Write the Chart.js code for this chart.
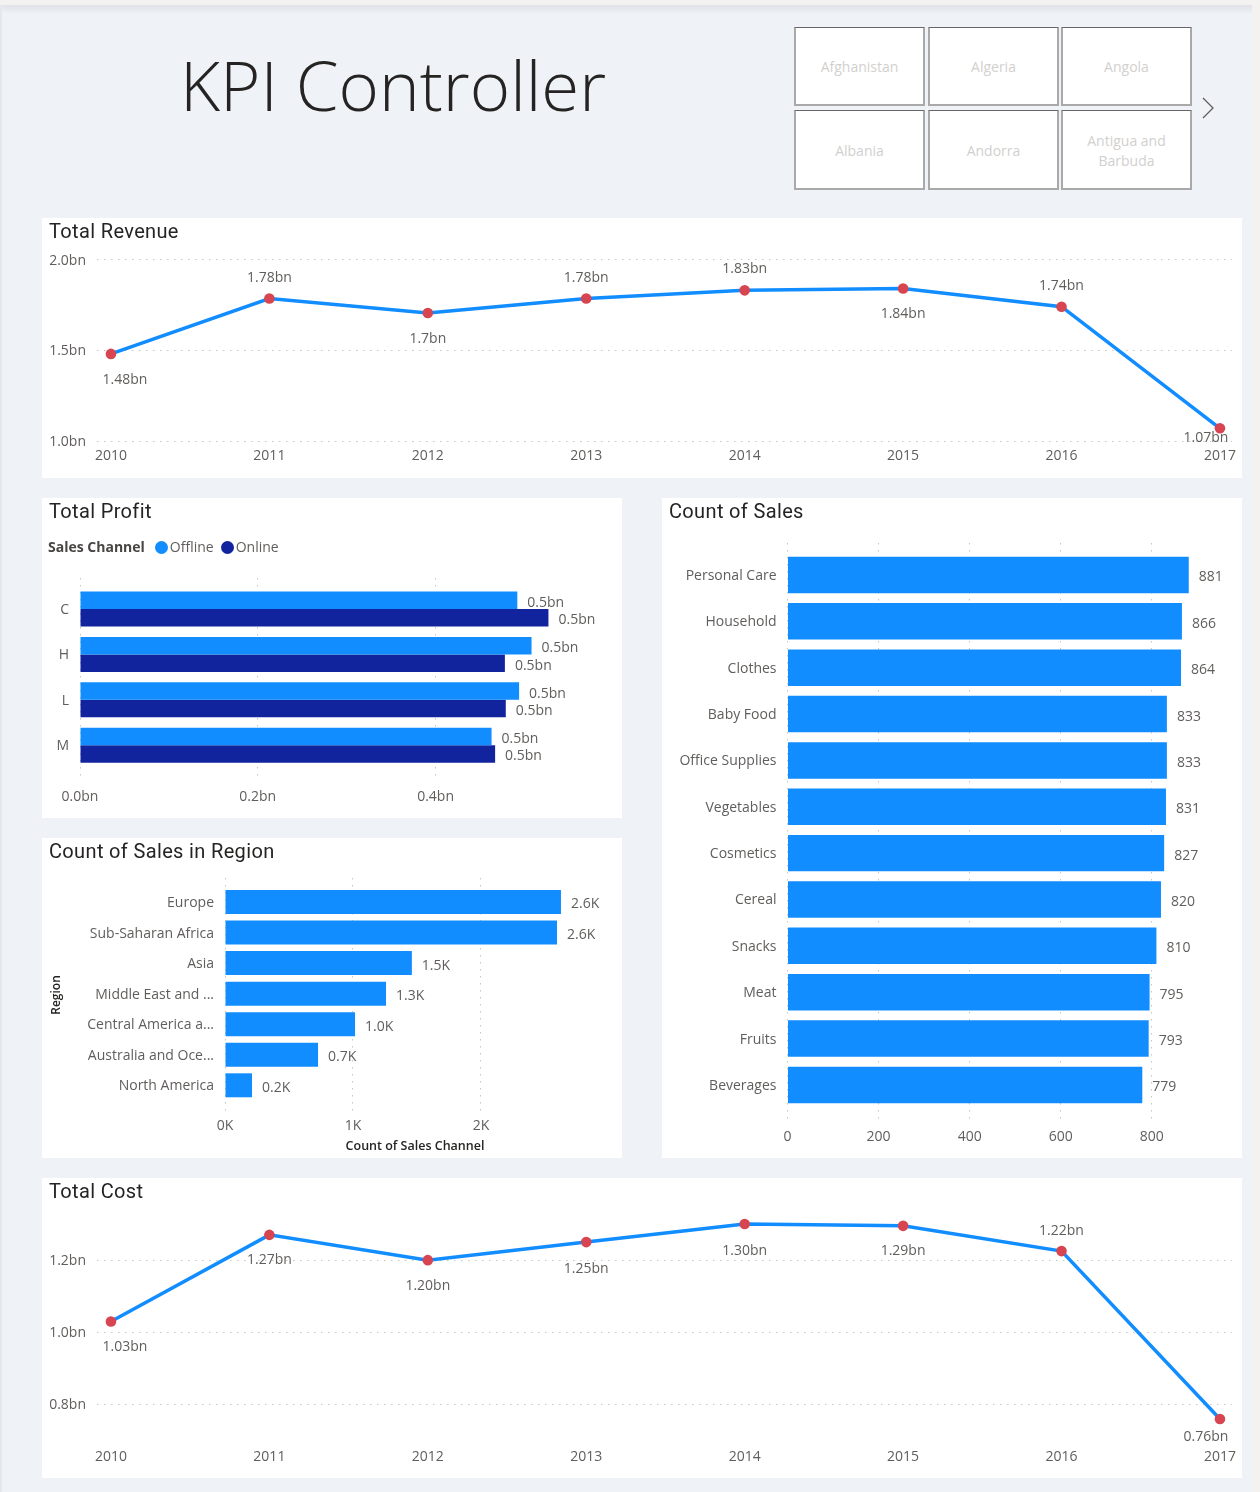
<!DOCTYPE html>
<html>
<head>
<meta charset="utf-8">
<title>KPI Controller</title>
<script src="https://cdn.jsdelivr.net/npm/chart.js@4"></script>
<style>
  html, body { margin: 0; padding: 0; }
  body { width: 1260px; height: 1492px; position: relative; overflow: hidden; background: #eff3f8; font-family: "Open Sans", sans-serif; }
  .topbar { position: absolute; left: 0; top: 0; width: 1260px; height: 5px; background: #f3f2f1; box-shadow: 0 2px 8px rgba(0,0,0,0.14); }
  .leftedge { position: absolute; left: 0; top: 5px; width: 2px; height: 1487px; background: #e6e7e9; }
  .rightedge { position: absolute; left: 1252px; top: 5px; width: 8px; height: 1487px; background: #f3f2f1; }
  .heading { position: absolute; left: 180px; top: 36px; font-size: 69px; font-weight: 350; color: #252423; line-height: 96px; white-space: nowrap; }
  .slicer { position: absolute; box-sizing: border-box; width: 131px; height: 79px; background: #fff; border: 2px solid #a9a9a9; border-top: 1px solid #666; display: flex; align-items: center; justify-content: center; text-align: center; color: #d2d0ce; font-size: 14px; line-height: 20px; padding: 2px 14px 0; }
  .slicer.low { height: 80px; }
  .panel { position: absolute; background: #fff; }
  .panel canvas { position: absolute; left: 0; top: 0; }
  .title { position: absolute; left: 7px; top: 0; font-family: Roboto, sans-serif; font-size: 20px; line-height: 27px; letter-spacing: 0.35px; color: #252423; white-space: nowrap; z-index: 2; }
  .legend { position: absolute; left: 6px; top: 39px; height: 20px; font-size: 14px; line-height: 20px; color: #605e5c; white-space: nowrap; z-index: 2; }
  .legend b { color: #484644; font-size: 14px; margin-right: 10px; }
  .legend i { display: inline-block; width: 13px; height: 13px; border-radius: 50%; vertical-align: -1.5px; margin-right: 2px; }
  .legend span { margin-right: 7px; }
  svg.next { position: absolute; left: 1201px; top: 96px; }
</style>
</head>
<body>
<div class="topbar"></div>
<div class="leftedge"></div>
<div class="rightedge"></div>
<div class="heading">KPI Controller</div>

<div class="slicer" style="left:794px;top:27px">Afghanistan</div>
<div class="slicer" style="left:928px;top:27px">Algeria</div>
<div class="slicer" style="left:1061px;top:27px">Angola</div>
<div class="slicer low" style="left:794px;top:110px">Albania</div>
<div class="slicer low" style="left:928px;top:110px">Andorra</div>
<div class="slicer low" style="left:1061px;top:110px">Antigua and Barbuda</div>
<svg class="next" width="16" height="24"><polyline points="2,2 12,12 2,22" fill="none" stroke="#605e5c" stroke-width="1.3"/></svg>

<div class="panel" style="left:42px;top:218px;width:1200px;height:260px">
  <div class="title">Total Revenue</div>
  <canvas id="revenueChart" width="1200" height="260"></canvas>
</div>
<div class="panel" style="left:42px;top:498px;width:580px;height:320px">
  <div class="title">Total Profit</div>
  <div class="legend"><b>Sales Channel</b><i style="background:#118dff"></i><span>Offline</span><i style="background:#12239e"></i><span>Online</span></div>
  <canvas id="profitChart" width="580" height="320"></canvas>
</div>
<div class="panel" style="left:42px;top:838px;width:580px;height:320px">
  <div class="title">Count of Sales in Region</div>
  <canvas id="regionChart" width="580" height="320"></canvas>
</div>
<div class="panel" style="left:662px;top:498px;width:580px;height:660px">
  <div class="title">Count of Sales</div>
  <canvas id="salesChart" width="580" height="660"></canvas>
</div>
<div class="panel" style="left:42px;top:1178px;width:1200px;height:300px">
  <div class="title">Total Cost</div>
  <canvas id="costChart" width="1200" height="300"></canvas>
</div>

<script>
const years = [2010, 2011, 2012, 2013, 2014, 2015, 2016, 2017];

const revenueValues = [1.48, 1.785, 1.705, 1.785, 1.83, 1.84, 1.74, 1.07];
const revenueLabels = ['1.48bn', '1.78bn', '1.7bn', '1.78bn', '1.83bn', '1.84bn', '1.74bn', '1.07bn'];

const costValues = [1.03, 1.27, 1.20, 1.25, 1.30, 1.295, 1.225, 0.76];
const costLabels = ['1.03bn', '1.27bn', '1.20bn', '1.25bn', '1.30bn', '1.29bn', '1.22bn', '0.76bn'];

const priorities = ['C', 'H', 'L', 'M'];
const profitOffline = [0.492, 0.508, 0.494, 0.463];
const profitOnline = [0.527, 0.478, 0.479, 0.467];

const regions = ['Europe', 'Sub-Saharan Africa', 'Asia', 'Middle East and ...', 'Central America a...', 'Australia and Oce...', 'North America'];
const regionCounts = [2.625, 2.594, 1.46, 1.258, 1.016, 0.727, 0.211];

const itemTypes = ['Personal Care', 'Household', 'Clothes', 'Baby Food', 'Office Supplies', 'Vegetables', 'Cosmetics', 'Cereal', 'Snacks', 'Meat', 'Fruits', 'Beverages'];
const itemCounts = [881, 866, 864, 833, 833, 831, 827, 820, 810, 795, 793, 779];

const BLUE = '#118dff';
const NAVY = '#12239e';
const RED = '#d64550';
const GREY = '#605e5c';
const GRID = '#c8c6c4';
const FONT = '"Open Sans", sans-serif';
const DOTS = [1.5, 5.5];

Chart.defaults.font.family = FONT;
Chart.defaults.font.size = 14;
Chart.defaults.color = GREY;
Chart.defaults.animation = false;
Chart.defaults.responsive = false;
Chart.defaults.plugins.legend.display = false;
Chart.defaults.plugins.tooltip.enabled = false;

// value labels next to line points, [dx, dy] from the point
const lineLabelPlugin = {
  id: 'lineLabels',
  afterDatasetsDraw(chart, args, opts) {
    const ctx = chart.ctx;
    const points = chart.getDatasetMeta(0).data;
    ctx.save();
    ctx.font = '14px ' + FONT;
    ctx.fillStyle = GREY;
    ctx.textAlign = 'center';
    ctx.textBaseline = 'middle';
    points.forEach((p, i) => {
      ctx.fillText(opts.labels[i], p.x + opts.offsets[i][0], p.y + opts.offsets[i][1]);
    });
    ctx.restore();
  }
};

// value labels at the end of horizontal bars
const barLabelPlugin = {
  id: 'barLabels',
  afterDatasetsDraw(chart, args, opts) {
    const ctx = chart.ctx;
    ctx.save();
    ctx.font = '14px ' + FONT;
    ctx.fillStyle = GREY;
    ctx.textAlign = 'left';
    ctx.textBaseline = 'middle';
    chart.data.datasets.forEach((ds, d) => {
      chart.getDatasetMeta(d).data.forEach((bar, i) => {
        ctx.fillText(opts.format(ds.data[i].x), bar.x + 10, bar.y + 2.5);
      });
    });
    ctx.restore();
  }
};

function lineChart(id, values, labels, offsets, yMin, yMax, yStep, top, bottom, xPad, yOffset) {
  return new Chart(document.getElementById(id), {
    type: 'line',
    plugins: [lineLabelPlugin],
    data: {
      datasets: [{
        data: years.map((y, i) => ({ x: y, y: values[i] })),
        borderColor: BLUE,
        borderWidth: 3.5,
        pointBackgroundColor: RED,
        pointBorderWidth: 0,
        pointRadius: 5.3,
        tension: 0,
        clip: false
      }]
    },
    options: {
      layout: { padding: { top: top, right: 10, bottom: 0, left: 0 } },
      plugins: { lineLabels: { labels: labels, offsets: offsets } },
      scales: {
        x: {
          type: 'linear',
          min: 2009.912,
          max: 2017.076,
          grid: { display: false, drawTicks: false },
          border: { display: false },
          ticks: { stepSize: 1, includeBounds: false, maxRotation: 0, autoSkip: false, padding: xPad, callback: v => String(v) },
          afterFit: s => { s.height = bottom; s.paddingLeft = 0; s.paddingRight = 0; }
        },
        y: {
          min: yMin,
          max: yMax,
          grid: { color: GRID, drawTicks: false },
          border: { display: false, dash: DOTS },
          ticks: { stepSize: yStep, includeBounds: false, padding: 11, labelOffset: yOffset, callback: v => v.toFixed(1) + 'bn' },
          afterFit: s => { s.width = 55; }
        }
      }
    }
  });
}

function barOptions(c) {
  return {
    indexAxis: 'y',
    layout: { padding: { top: c.top, right: c.right, bottom: 0, left: 0 } },
    plugins: { barLabels: { format: c.format } },
    scales: {
      x: {
        type: 'linear',
        min: 0,
        max: c.xMax,
        grid: { color: GRID, drawTicks: false },
        border: { display: false, dash: DOTS },
        title: c.xTitle ? { display: true, text: c.xTitle, font: { size: 12.5, weight: '600' }, color: '#252423', padding: { top: 2, bottom: 4 } } : { display: false },
        ticks: { stepSize: c.xStep, includeBounds: false, maxRotation: 0, autoSkip: false, padding: c.xPad, callback: c.xTick },
        afterFit: s => { s.height = c.bottom; }
      },
      y: {
        type: 'linear',
        offset: false,
        reverse: true,
        min: c.yMin,
        max: c.yMax,
        grid: { display: false, drawTicks: false },
        border: { display: false },
        title: c.yTitle ? { display: true, text: c.yTitle, font: { size: 12, weight: '600' }, color: '#252423', padding: { top: 7, bottom: 0 } } : { display: false },
        ticks: { stepSize: 1, includeBounds: false, autoSkip: false, padding: c.yPad, labelOffset: 1, callback: v => c.names[v] },
        afterFit: s => { s.width = c.left; }
      }
    }
  };
}

function barData(names, values) {
  return names.map((n, i) => ({ x: values[i], y: i }));
}

lineChart('revenueChart', revenueValues, revenueLabels,
  [[14, 25.7], [0, -21], [0, 25.7], [0, -20.3], [0, -21.3], [0, 25], [0, -20.3], [-14, 10]],
  1.0, 2.0, 0.5, 41.5, 37, 7, 1.25);

lineChart('costChart', costValues, costLabels,
  [[14, 25.7], [0, 25], [0, 25.7], [0, 26.5], [0, 26.5], [0, 25], [0, -20.3], [-14, 18.5]],
  0.7, 1.35, 0.2, 28, 37.4, 8, 0.7);

new Chart(document.getElementById('profitChart'), {
  type: 'bar',
  plugins: [barLabelPlugin],
  data: {
    datasets: [
      { label: 'Offline', data: barData(priorities, profitOffline), backgroundColor: BLUE, categoryPercentage: 0.77, barPercentage: 1 },
      { label: 'Online', data: barData(priorities, profitOnline), backgroundColor: NAVY, categoryPercentage: 0.77, barPercentage: 1 }
    ]
  },
  options: barOptions({
    top: 80, right: 22, bottom: 41, left: 38,
    xMax: 0.585, xStep: 0.2, xPad: 12, yPad: 11,
    yMin: -0.683, yMax: 3.70,
    names: priorities,
    format: v => v.toFixed(1) + 'bn',
    xTick: v => v.toFixed(1) + 'bn'
  })
});

new Chart(document.getElementById('regionChart'), {
  type: 'bar',
  plugins: [barLabelPlugin],
  data: {
    datasets: [{ data: barData(regions, regionCounts), backgroundColor: BLUE, categoryPercentage: 0.785, barPercentage: 1 }]
  },
  options: barOptions({
    top: 40, right: 17, bottom: 46, left: 183,
    xMax: 2.969, xStep: 1, xPad: 6, yPad: 11,
    yMin: -0.786, yMax: 6.874,
    names: regions,
    xTitle: 'Count of Sales Channel',
    yTitle: 'Region',
    format: v => v.toFixed(1) + 'K',
    xTick: v => v + 'K'
  })
});

new Chart(document.getElementById('salesChart'), {
  type: 'bar',
  plugins: [barLabelPlugin],
  data: {
    datasets: [{ data: barData(itemTypes, itemCounts), backgroundColor: BLUE, categoryPercentage: 0.787, barPercentage: 1 }]
  },
  options: barOptions({
    top: 45, right: 20, bottom: 36, left: 125.5,
    xMax: 954, xStep: 200, xPad: 7, yPad: 11,
    yMin: -0.69, yMax: 11.8,
    names: itemTypes,
    format: v => String(v),
    xTick: v => String(v)
  })
});
</script>
</body>
</html>
